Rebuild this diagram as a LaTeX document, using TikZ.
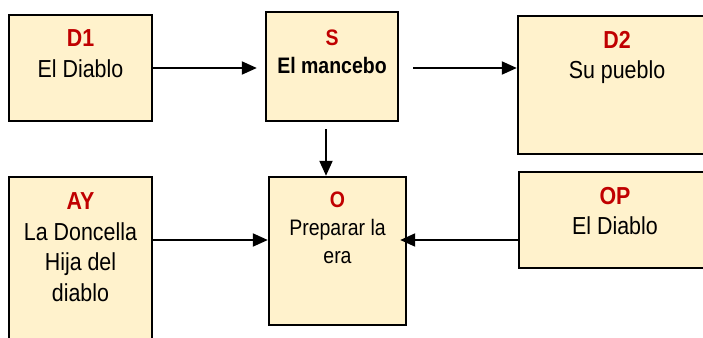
\documentclass[tikz,border=0pt]{standalone}
\usepackage{fontspec}
\setmainfont{Liberation Sans}[FakeStretch=0.87]
\usetikzlibrary{arrows.meta,positioning}
\definecolor{boxfill}{HTML}{FFF2CC}
\definecolor{tagred}{HTML}{C00000}
\newcommand{\tagtxt}[1]{\textcolor{tagred}{\textbf{#1}}}

\begin{document}
\begin{tikzpicture}[x=1pt,y=-1pt,
    actant/.style={draw=black, line width=2.4pt, fill=boxfill, inner sep=0pt},
    bigtxt/.style={align=center, inner sep=0pt, anchor=north, font=\fontsize{24.6}{30.5}\selectfont},
    smalltxt/.style={align=center, inner sep=0pt, anchor=north, font=\fontsize{22.4}{28}\selectfont},
    link/.style={line width=2pt, -{Triangle[length=15pt,width=13pt]}}]
    \useasboundingbox (0,0) rectangle (703,337);
    \clip (0,0) rectangle (703,337);

    % Upper row
    \node[actant, minimum width=143pt, minimum height=106pt] (d1) at (80.5,68) {};
    \node[actant, minimum width=132pt, minimum height=109pt] (s) at (332,66.5) {};
    \node[actant, minimum width=198pt, minimum height=138pt] (d2) at (617,85) {};
    \node[bigtxt, below=16pt of d1.north] (d1t) {\tagtxt{D1}\\El Diablo};
    \node[smalltxt, below=19pt of s.north] (st) {\tagtxt{S}\\\textbf{El mancebo}};
    \node[bigtxt, below=16pt of d2.north] (d2t) {\tagtxt{D2}\\Su pueblo};

    % Lower row
    \node[actant, minimum width=143pt, minimum height=183pt] (ay) at (80.5,268.5) {};
    \node[actant, minimum width=137pt, minimum height=148pt] (o) at (337.5,251) {};
    \node[actant, minimum width=192pt, minimum height=96pt] (op) at (615,220) {};
    \node[bigtxt, below=17pt of ay.north] (ayt) {\tagtxt{AY}\\La Doncella\\Hija del\\diablo};
    \node[smalltxt, below=16pt of o.north] (ot) {\tagtxt{O}\\Preparar la\\era};
    \node[bigtxt, below=16pt of op.north] (opt) {\tagtxt{OP}\\El Diablo};

    % Arrows
    \draw[link] (d1.east) -- ([xshift=-8pt]d1.east -| s.west);
    \draw[link] ([xshift=14pt]s.east |- d1.east) -- (d1.east -| d2.west);
    \draw[link] ([shift={(-6pt,-7pt)}]s.south) -- ([xshift=-6pt]s.south |- o.north);
    \draw[link] (ay.east |- 0,240) -- (o.west |- 0,240);
    \draw[link] (op.west |- 0,240) -- ([xshift=-7pt]o.east |- 0,240);
\end{tikzpicture}
\end{document}
